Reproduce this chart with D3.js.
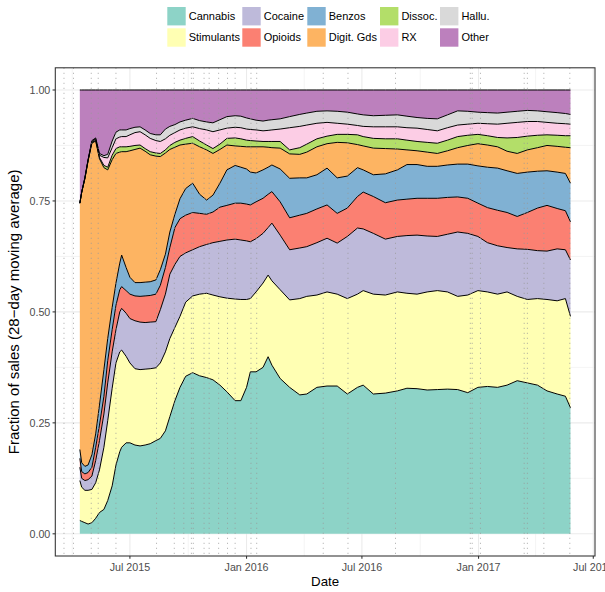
<!DOCTYPE html>
<html><head><meta charset="utf-8">
<script src="https://cdn.jsdelivr.net/npm/d3@7"></script>
<style>body{margin:0;background:#fff}svg{display:block}text{font-family:"Liberation Sans",Arial,Helvetica,sans-serif}</style>
</head><body>
<svg id="c" width="605" height="592"></svg>
<script>
const categories = ["Cannabis","Stimulants","Cocaine","Opioids","Benzos","Digit. Gds","Dissoc.","RX","Hallu.","Other"];
const colors = ["#8DD3C7","#FFFFB3","#BEBADA","#FB8072","#80B1D3","#FDB462","#B3DE69","#FCCDE5","#D9D9D9","#BC80BD"];

const dates = ["2015-04-13","2015-04-16","2015-04-21","2015-04-26","2015-05-02","2015-05-08","2015-05-14","2015-05-21","2015-05-27","2015-06-03","2015-06-09","2015-06-15","2015-06-18","2015-06-25","2015-07-01","2015-07-09","2015-07-17","2015-07-25","2015-08-02","2015-08-11","2015-08-18","2015-08-26","2015-09-02","2015-09-10","2015-09-18","2015-09-27","2015-10-08","2015-10-19","2015-10-30","2015-11-09","2015-11-20","2015-12-01","2015-12-14","2015-12-23","2016-01-01","2016-01-07","2016-01-16","2016-01-27","2016-02-04","2016-02-10","2016-02-23","2016-03-09","2016-03-25","2016-04-05","2016-04-21","2016-05-07","2016-05-23","2016-06-08","2016-06-24","2016-07-03","2016-07-19","2016-08-07","2016-08-26","2016-09-10","2016-09-26","2016-10-12","2016-10-28","2016-11-13","2016-11-29","2016-12-15","2016-12-31","2017-01-15","2017-01-31","2017-02-15","2017-03-03","2017-03-19","2017-04-04","2017-04-19","2017-05-05","2017-05-18","2017-05-26"];

const cannabis = [.030,.028,.025,.022,.025,.035,.048,.055,.075,.108,.155,.185,.195,.205,.205,.200,.198,.200,.203,.210,.215,.232,.264,.300,.330,.355,.363,.356,.352,.347,.335,.320,.300,.300,.330,.365,.365,.375,.399,.380,.350,.330,.313,.315,.330,.333,.333,.315,.330,.335,.315,.317,.322,.328,.327,.324,.325,.326,.325,.318,.330,.332,.330,.335,.345,.340,.335,.322,.315,.310,.284];
const stimulants = [.090,.077,.073,.076,.075,.080,.096,.140,.180,.220,.230,.225,.219,.195,.180,.172,.172,.171,.169,.164,.170,.178,.176,.165,.160,.167,.173,.184,.190,.191,.199,.211,.229,.228,.198,.165,.180,.190,.184,.190,.200,.197,.217,.220,.208,.212,.207,.215,.210,.213,.225,.221,.223,.214,.213,.221,.223,.219,.210,.220,.218,.213,.210,.210,.190,.188,.195,.206,.210,.220,.206];
const cocaine = [.030,.020,.022,.024,.030,.050,.066,.075,.085,.082,.075,.090,.094,.097,.100,.108,.107,.105,.105,.104,.120,.130,.145,.142,.135,.111,.104,.107,.110,.118,.125,.131,.135,.134,.132,.128,.120,.112,.107,.130,.123,.113,.114,.112,.118,.121,.115,.140,.149,.139,.137,.126,.125,.130,.133,.126,.122,.130,.145,.139,.122,.111,.109,.100,.107,.113,.108,.109,.117,.110,.127];
const opioids = [.020,.015,.015,.016,.020,.030,.035,.040,.050,.050,.055,.050,.049,.051,.055,.056,.058,.060,.060,.062,.055,.060,.060,.083,.085,.085,.084,.075,.068,.069,.077,.078,.081,.083,.083,.083,.083,.079,.075,.071,.075,.072,.074,.075,.076,.075,.067,.064,.071,.083,.083,.082,.082,.082,.083,.085,.086,.083,.079,.079,.075,.079,.080,.079,.073,.083,.096,.103,.091,.088,.086];
const benzos = [.020,.020,.017,.017,.028,.030,.045,.060,.050,.050,.050,.060,.071,.052,.038,.030,.031,.031,.031,.032,.035,.030,.035,.030,.045,.060,.066,.043,.032,.038,.054,.080,.085,.081,.079,.074,.065,.064,.061,.060,.074,.089,.084,.080,.077,.083,.080,.072,.065,.050,.049,.065,.068,.078,.076,.072,.072,.073,.074,.077,.084,.091,.095,.094,.097,.091,.083,.078,.082,.084,.087];
const digitGds = [.555,.610,.648,.685,.702,.660,.555,.455,.380,.333,.292,.250,.233,.261,.285,.300,.303,.295,.286,.279,.255,.228,.186,.151,.121,.100,.090,.107,.113,.094,.076,.056,.044,.047,.050,.057,.059,.052,.045,.039,.047,.055,.053,.058,.063,.055,.080,.075,.052,.054,.060,.057,.047,.033,.031,.032,.029,.032,.037,.042,.050,.050,.048,.044,.045,.050,.053,.057,.058,.059,.080];
const dissoc = [0,0,.001,.001,.002,.002,.003,.005,.006,.010,.011,.012,.011,.011,.010,.009,.007,.006,.007,.007,.007,.007,.009,.011,.011,.013,.015,.013,.011,.011,.012,.015,.018,.017,.015,.014,.013,.012,.013,.014,.015,.009,.015,.018,.018,.017,.018,.019,.022,.021,.022,.022,.023,.022,.021,.022,.023,.024,.025,.023,.021,.021,.021,.030,.036,.031,.028,.024,.025,.026,.027];
const rx = [0,0,.001,.001,.002,.003,.005,.018,.021,.017,.022,.022,.023,.023,.026,.029,.030,.031,.030,.028,.027,.025,.023,.022,.023,.023,.022,.028,.034,.038,.032,.023,.024,.025,.025,.025,.025,.024,.025,.026,.028,.050,.048,.043,.035,.031,.025,.023,.021,.023,.026,.027,.027,.028,.030,.029,.028,.028,.026,.025,.025,.027,.030,.033,.034,.033,.031,.028,.027,.027,.026];
const hallu = [0,0,.001,.001,.002,.002,.004,.004,.008,.015,.015,.016,.015,.015,.014,.012,.011,.011,.011,.013,.015,.022,.020,.018,.018,.018,.019,.018,.018,.020,.023,.026,.026,.026,.025,.024,.022,.022,.023,.023,.023,.025,.027,.027,.027,.026,.027,.027,.026,.026,.025,.026,.027,.026,.024,.025,.027,.029,.032,.029,.025,.025,.025,.025,.025,.025,.024,.024,.024,.023,.022];
const other = [.255,.230,.197,.157,.114,.108,.143,.148,.145,.115,.095,.090,.090,.090,.087,.084,.083,.090,.098,.101,.101,.088,.082,.078,.072,.068,.064,.069,.072,.074,.067,.060,.058,.059,.063,.065,.068,.070,.068,.067,.065,.060,.055,.052,.048,.047,.048,.050,.054,.056,.058,.057,.056,.059,.062,.064,.065,.056,.047,.048,.050,.051,.052,.050,.048,.046,.047,.049,.051,.053,.055];

const eventDates = ["2015-03-19","2015-04-03","2015-05-01","2015-05-12","2015-06-09","2015-08-12","2015-09-09","2015-09-24","2015-10-06","2015-10-09","2015-10-26","2015-11-03","2015-11-18","2015-12-02","2015-12-14","2016-01-08","2016-01-17","2016-05-01","2016-06-09","2016-08-23","2016-12-19","2016-12-22","2017-01-04","2017-03-14","2017-03-19","2017-04-14","2017-05-25"];

const yTicks = [0, 0.25, 0.5, 0.75, 1];
const yTickLabels = ["0.00","0.25","0.50","0.75","1.00"];
const xTickDates = ["2015-07-01","2016-01-01","2016-07-01","2017-01-01","2017-07-01"];
const xTickLabels = ["Jul 2015","Jan 2016","Jul 2016","Jan 2017","Jul 2017"];
const xMinorDates = ["2015-04-01","2015-10-01","2016-04-01","2016-10-01","2017-04-01"];

const seriesArrays = [cannabis, stimulants, cocaine, opioids, benzos, digitGds, dissoc, rx, hallu, other];

const parse = d3.utcParse("%Y-%m-%d");
const rows = dates.map((d, i) => {
  const r = {date: parse(d)};
  categories.forEach((c, k) => r[c] = seriesArrays[k][i]);
  return r;
});

const svg = d3.select("#c");
const P = {left: 55.3, right: 595, top: 67.8, bottom: 556};

const ext = d3.extent(rows, r => r.date);
const span = ext[1] - ext[0];
const x = d3.scaleUtc()
  .domain([new Date(+ext[0] - span * 0.05), new Date(+ext[1] + span * 0.05)])
  .range([P.left, P.right]);
const y = d3.scaleLinear().domain([-0.05, 1.05]).range([P.bottom, P.top]);

svg.append("rect").attr("x", P.left).attr("y", P.top)
  .attr("width", P.right - P.left).attr("height", P.bottom - P.top).attr("fill", "#fff");

const grid = svg.append("g");
const yMinor = [0.125, 0.375, 0.625, 0.875];
yMinor.forEach(v => grid.append("line").attr("x1", P.left).attr("x2", P.right)
  .attr("y1", y(v)).attr("y2", y(v)).attr("stroke", "#EBEBEB").attr("stroke-width", 0.53));
xMinorDates.forEach(d => grid.append("line").attr("y1", P.top).attr("y2", P.bottom)
  .attr("x1", x(parse(d))).attr("x2", x(parse(d))).attr("stroke", "#EBEBEB").attr("stroke-width", 0.53));
yTicks.forEach(v => grid.append("line").attr("x1", P.left).attr("x2", P.right)
  .attr("y1", y(v)).attr("y2", y(v)).attr("stroke", "#EBEBEB").attr("stroke-width", 1.07));
xTickDates.forEach(d => grid.append("line").attr("y1", P.top).attr("y2", P.bottom)
  .attr("x1", x(parse(d))).attr("x2", x(parse(d))).attr("stroke", "#EBEBEB").attr("stroke-width", 1.07));

const stacked = d3.stack().keys(categories)(rows);

const area = d3.area().x(d => x(d.data.date)).y0(d => y(d[0])).y1(d => y(d[1]));
const line = d3.line().x(d => x(d.data.date)).y(d => y(d[1]));

const g = svg.append("g");
stacked.forEach((s, k) => {
  g.append("path").attr("d", area(s)).attr("fill", colors[k]).attr("stroke", "none");
});
stacked.forEach((s, k) => {
  g.append("path").attr("d", line(s)).attr("fill", "none").attr("stroke", "#000")
    .attr("stroke-width", 1).attr("stroke-linejoin", "round");
});

eventDates.forEach(d => {
  svg.append("line").attr("x1", x(parse(d))).attr("x2", x(parse(d)))
    .attr("y1", P.top).attr("y2", P.bottom)
    .attr("stroke", "#999").attr("stroke-opacity", 0.85)
    .attr("stroke-width", 1).attr("stroke-dasharray", "1,4");
});

svg.append("rect").attr("x", P.left).attr("y", P.top)
  .attr("width", P.right - P.left).attr("height", P.bottom - P.top)
  .attr("fill", "none").attr("stroke", "#333").attr("stroke-width", 1.07);

yTicks.forEach((v, i) => {
  svg.append("line").attr("x1", P.left - 2.74).attr("x2", P.left)
    .attr("y1", y(v)).attr("y2", y(v)).attr("stroke", "#333").attr("stroke-width", 1.07);
  svg.append("text").attr("x", P.left - 5).attr("y", y(v)).attr("dy", "0.35em")
    .attr("text-anchor", "end").attr("font-size", "10.7px").attr("fill", "#4D4D4D")
    .text(yTickLabels[i]);
});
xTickDates.forEach((d, i) => {
  const xx = x(parse(d));
  svg.append("line").attr("x1", xx).attr("x2", xx)
    .attr("y1", P.bottom).attr("y2", P.bottom + 2.74).attr("stroke", "#333").attr("stroke-width", 1.07);
  svg.append("text").attr("x", xx).attr("y", 570.5)
    .attr("text-anchor", "middle").attr("font-size", "10.7px").attr("fill", "#4D4D4D")
    .text(xTickLabels[i]);
});

svg.append("text").attr("x", (P.left + P.right) / 2).attr("y", 586)
  .attr("text-anchor", "middle").attr("font-size", "13.3px").attr("fill", "#000").text("Date");
svg.append("text").attr("transform", `translate(19,${(P.top + P.bottom) / 2}) rotate(-90)`)
  .attr("text-anchor", "middle").attr("font-size", "15px").attr("fill", "#000")
  .text("Fraction of sales (28\u2212day moving average)");

const colX = [167.3, 242.3, 307.3, 380, 440];
const rowY = [7, 28.3];
const keyS = 18.4;
categories.forEach((c, k) => {
  const col = Math.floor(k / 2), row = k % 2;
  const lx = colX[col], ly = rowY[row];
  svg.append("rect").attr("x", lx).attr("y", ly).attr("width", keyS).attr("height", keyS)
    .attr("fill", colors[k]);
  svg.append("text").attr("x", lx + keyS + 3).attr("y", ly + keyS / 2).attr("dy", "0.35em")
    .attr("font-size", "11px").attr("fill", "#000").text(c);
});
</script>
</body></html>
